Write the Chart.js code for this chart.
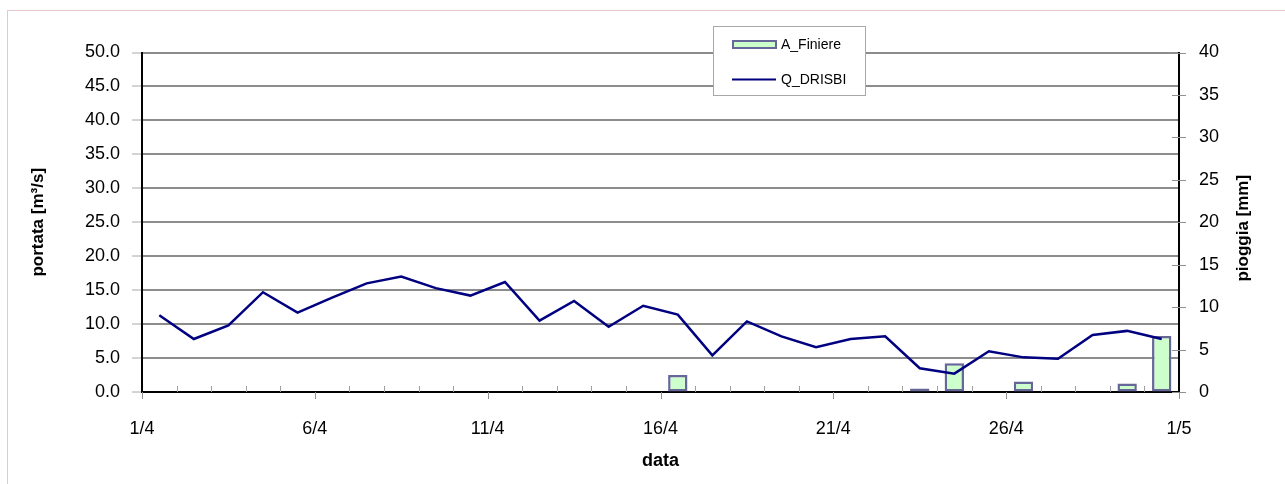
<!DOCTYPE html>
<html>
<head>
<meta charset="utf-8">
<script src="https://cdn.jsdelivr.net/npm/chart.js@4/dist/chart.umd.min.js"></script>
<style>
  html, body { margin: 0; padding: 0; background: #fff; }
  #wrap { width: 1285px; height: 484px; position: relative; }
</style>
</head>
<body>
<div id="wrap"><canvas id="chart"></canvas></div>
<script>
// giorni di aprile (una categoria per giorno)
const dates = ['1/4', '2/4', '3/4', '4/4', '5/4', '6/4', '7/4', '8/4', '9/4', '10/4',
               '11/4', '12/4', '13/4', '14/4', '15/4', '16/4', '17/4', '18/4', '19/4', '20/4',
               '21/4', '22/4', '23/4', '24/4', '25/4', '26/4', '27/4', '28/4', '29/4', '30/4'];
const xTickLabels = ['1/4', '6/4', '11/4', '16/4', '21/4', '26/4', '1/5'];

// portata giornaliera Q_DRISBI [m3/s]
const qDrisbi = [11.3, 7.8, 9.8, 14.7, 11.7, 13.9, 16.0, 17.0, 15.3, 14.2,
                 16.2, 10.5, 13.4, 9.6, 12.7, 11.4, 5.4, 10.4, 8.2, 6.6,
                 7.8, 8.2, 3.5, 2.7, 6.0, 5.1, 4.9, 8.4, 9.0, 7.8];

// pioggia A_Finiere [mm] (null = nessuna barra)
const aFiniere = [null, null, null, null, null, null, null, null, null, null,
                  null, null, null, null, null, 2.0, null, null, null, null,
                  null, null, 0.4, 3.4, null, 1.25, null, null, 1.0, 6.6];

const leftTicks = { min: 0, max: 50, step: 5 };
const rightTicks = { min: 0, max: 40, step: 5 };

Chart.defaults.font.family = "'Liberation Sans', Arial, sans-serif";
Chart.defaults.color = '#000';

// posizione centrale del giorno sull'asse lineare
const toPoints = arr => arr.map((v, i) => ({ x: i + 0.5, y: v }));

// cornice, tacche degli assi, titolo destro e legenda
const extras = {
    id: 'extras',
    beforeDraw(chart) {
        const ctx = chart.ctx;
        ctx.save();
        ctx.strokeStyle = '#e6c6c6';
        ctx.lineWidth = 1;
        ctx.strokeRect(7.5, 10.5, 1400, 600);
        ctx.restore();
    },
    afterDatasetsDraw(chart) {
        const ctx = chart.ctx;
        const x = chart.scales.x;
        const y1 = chart.scales.y1;
        const area = chart.chartArea;
        ctx.save();
        ctx.lineWidth = 1;
        // tacche minori (giorni) interne
        ctx.strokeStyle = '#a0a0a0';
        for (let d = 1; d < dates.length; d++) {
            if (d % 5 === 0) continue;
            const px = Math.round(x.getPixelForValue(d)) + 0.5;
            ctx.beginPath();
            ctx.moveTo(px, area.bottom);
            ctx.lineTo(px, area.bottom - 6);
            ctx.stroke();
        }
        // tacche maggiori esterne
        ctx.strokeStyle = '#909090';
        for (let k = 0; k < xTickLabels.length; k++) {
            const px = Math.round(x.getPixelForValue(k * 5)) + 0.5;
            ctx.beginPath();
            ctx.moveTo(px, area.bottom);
            ctx.lineTo(px, area.bottom + 7);
            ctx.stroke();
        }
        // tacche asse destro (a cavallo dell'asse)
        for (let v = rightTicks.min; v <= rightTicks.max; v += rightTicks.step) {
            const py = Math.round(y1.getPixelForValue(v)) + 0.5;
            ctx.beginPath();
            ctx.moveTo(area.right - 7, py);
            ctx.lineTo(area.right + 7, py);
            ctx.stroke();
        }
        ctx.restore();
    },
    afterDraw(chart) {
        const ctx = chart.ctx;
        const area = chart.chartArea;
        ctx.save();
        // titolo asse destro
        ctx.font = "bold 17px 'Liberation Sans', Arial, sans-serif";
        ctx.fillStyle = '#000';
        ctx.textAlign = 'center';
        ctx.textBaseline = 'middle';
        ctx.translate(1243, (area.top + area.bottom) / 2 + 6);
        ctx.rotate(-Math.PI / 2);
        ctx.fillText('pioggia [mm]', 0, 0);
        ctx.restore();

        // legenda
        ctx.save();
        ctx.fillStyle = '#fff';
        ctx.fillRect(713, 26, 152, 69);
        ctx.strokeStyle = '#a8a8a8';
        ctx.lineWidth = 1;
        ctx.strokeRect(713.5, 26.5, 152, 69);
        ctx.fillStyle = '#ccffcc';
        ctx.fillRect(733, 41, 43, 7);
        ctx.strokeStyle = '#666699';
        ctx.lineWidth = 2;
        ctx.strokeRect(733, 41, 43, 7);
        ctx.strokeStyle = '#000080';
        ctx.beginPath();
        ctx.moveTo(732, 79.5);
        ctx.lineTo(776, 79.5);
        ctx.stroke();
        ctx.fillStyle = '#000';
        ctx.font = "14px 'Liberation Sans', Arial, sans-serif";
        ctx.textAlign = 'left';
        ctx.textBaseline = 'middle';
        ctx.fillText('A_Finiere', 781, 45);
        ctx.fillText('Q_DRISBI', 781, 80);
        ctx.restore();
    }
};

const ctx = document.getElementById('chart').getContext('2d');
new Chart(ctx, {
    data: {
        datasets: [
            {
                type: 'line',
                label: 'Q_DRISBI',
                data: toPoints(qDrisbi),
                yAxisID: 'y',
                borderColor: '#000080',
                borderWidth: 2.5,
                pointRadius: 0,
                tension: 0,
                order: 0
            },
            {
                type: 'bar',
                label: 'A_Finiere',
                data: toPoints(aFiniere),
                yAxisID: 'y1',
                backgroundColor: '#ccffcc',
                borderColor: '#666699',
                borderWidth: 2.5,
                borderSkipped: false,
                barPercentage: 0.56,
                categoryPercentage: 1,
                order: 1
            }
        ]
    },
    options: {
        responsive: true,
        maintainAspectRatio: false,
        animation: false,
        layout: { padding: { top: 52.5, left: 0, right: 0, bottom: 0 } },
        plugins: {
            legend: { display: false },
            tooltip: { enabled: false }
        },
        scales: {
            x: {
                type: 'linear',
                offset: false,
                min: 0,
                max: dates.length,
                afterFit: s => { s.height = 92; },
                grid: { drawOnChartArea: false, drawTicks: false, offset: false },
                border: { color: '#000', width: 2 },
                ticks: {
                    stepSize: 1,
                    autoSkip: false,
                    maxRotation: 0,
                    padding: 26,
                    font: { size: 18 },
                    callback: v => (v % 5 === 0 ? xTickLabels[v / 5] : '')
                },
                title: {
                    display: true,
                    text: 'data',
                    font: { size: 18, weight: 'bold' },
                    padding: { top: 0, bottom: 12 }
                }
            },
            y: {
                position: 'left',
                min: leftTicks.min,
                max: leftTicks.max,
                afterFit: s => { s.width = 142; },
                grid: { color: '#8c8c8c', lineWidth: 2, tickLength: 10, tickColor: '#a8a8a8', tickWidth: 1 },
                border: { color: '#000', width: 2 },
                ticks: {
                    stepSize: leftTicks.step,
                    padding: 12,
                    font: { size: 18 },
                    callback: v => v.toFixed(1)
                },
                title: {
                    display: true,
                    text: 'portata [m³/s]',
                    font: { size: 17, weight: 'bold' },
                    padding: { top: 28, bottom: 0 }
                }
            },
            y1: {
                position: 'right',
                min: rightTicks.min,
                max: rightTicks.max,
                afterFit: s => { s.width = 106; },
                grid: { drawOnChartArea: false, drawTicks: false },
                border: { color: '#000', width: 2 },
                ticks: {
                    stepSize: rightTicks.step,
                    padding: 20,
                    font: { size: 18 }
                }
            }
        }
    },
    plugins: [extras]
});
</script>
</body>
</html>
